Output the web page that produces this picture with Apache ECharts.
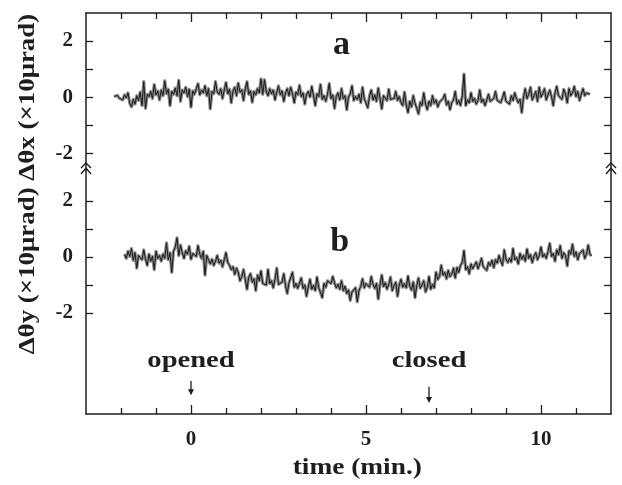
<!DOCTYPE html>
<html>
<head>
<meta charset="utf-8">
<script src="https://cdn.jsdelivr.net/npm/echarts@6/dist/echarts.min.js"></script>
<style>
  html, body { margin: 0; padding: 0; background: #fff; }
  #chart { width: 622px; height: 485px; }
</style>
</head>
<body>
<div id="chart"></div>
<script>
// time axis (minutes)
const timeRange = [-3, 12];
const timeMajorTicks = [0, 5, 10];
const timeMinorTicks = [-2, -1, 1, 2, 3, 4, 6, 7, 8, 9, 11];

// angle axes (x10 µrad) for the two panels
const panelARange = [-2.6, 3];
const panelBRange = [-5.6, 3.1];
const angleTicks = [-2, -1, 0, 1, 2];
const angleLabels = [-2, 0, 2];

// sampling of the recorded traces
const sampleStep = 0.05;
const thetaXStart = -2.2;
const thetaYStart = -1.9;

// Δθx trace, one row per minute starting at -2.2 min
const thetaX = [
  0.02,-0.05,0.06,-0.04,0.03,-0.10,0.08,-0.02,0.15,-0.22,-0.35,-0.08,-0.25,0.05,-0.12,0.18,-0.30,0.55,-0.40,0.10,
  0.02,0.20,-0.05,0.45,0.08,0.22,-0.10,0.25,0.05,0.58,0.12,0.28,-0.30,0.20,0.10,0.32,0.05,0.60,-0.15,0.25,
  0.15,0.35,0.02,0.28,-0.36,0.22,0.10,0.30,0.48,0.08,0.25,0.15,0.40,0.05,0.30,-0.42,0.20,0.12,0.55,0.18,
  0.10,0.30,-0.05,0.25,0.52,0.12,0.28,-0.20,0.22,0.35,0.05,0.50,0.18,0.26,-0.12,0.30,0.55,0.10,0.22,-0.18,
  0.20,0.08,0.30,0.15,0.65,0.10,0.62,0.20,0.05,0.30,0.12,0.25,-0.10,0.18,0.40,0.08,0.22,-0.15,0.15,0.30,
  0.05,0.35,0.12,-0.20,0.18,0.08,0.42,0.02,0.15,-0.25,0.10,0.20,0.00,0.38,0.05,-0.30,0.12,0.02,0.45,-0.08,
  0.05,-0.15,0.10,0.48,-0.05,0.08,-0.40,0.02,0.15,-0.10,0.30,-0.05,0.05,-0.45,0.00,0.12,0.40,-0.12,0.02,-0.08,
  0.10,-0.20,0.35,-0.05,0.02,-0.38,0.05,0.25,-0.10,0.08,-0.15,0.32,-0.05,-0.42,0.05,0.00,-0.12,0.28,-0.08,-0.02,
  -0.05,0.20,-0.12,0.02,-0.20,-0.30,0.18,-0.28,-0.55,-0.15,-0.35,0.05,-0.22,-0.40,-0.60,-0.18,-0.30,0.15,-0.25,-0.45,
  -0.15,-0.30,0.05,-0.22,-0.10,-0.35,-0.18,-0.25,-0.05,0.10,-0.28,-0.15,-0.45,-0.20,-0.10,0.20,-0.25,-0.12,-0.30,0.05,
  0.82,-0.30,-0.10,-0.20,0.15,-0.15,-0.05,-0.25,-0.12,0.25,-0.18,-0.08,-0.30,-0.10,0.10,-0.15,-0.22,-0.05,0.20,-0.12,
  -0.08,-0.20,-0.02,0.18,-0.15,-0.10,-0.25,0.05,-0.12,0.15,-0.05,-0.20,-0.08,-0.55,0.00,0.30,-0.05,0.10,0.35,-0.10,
  0.05,0.20,-0.15,0.35,0.00,0.12,0.30,-0.10,0.08,0.25,0.02,-0.30,0.15,0.38,0.05,0.10,-0.08,0.28,0.12,-0.20,
  0.30,0.05,0.15,0.38,0.02,0.20,-0.12,0.10,0.30,0.05,0.15,0.22,0.10
];

// Δθy trace, one row per minute starting at -1.9 min
const thetaY = [
  0.10,-0.05,0.20,0.02,0.30,-0.12,0.15,-0.40,0.05,0.12,-0.10,0.25,-0.08,-0.30,0.10,-0.15,0.02,-0.45,0.20,-0.05,
  0.05,-0.15,0.10,-0.05,0.50,-0.10,0.15,-0.55,0.20,0.35,0.68,0.05,0.42,0.15,-0.05,0.22,0.10,0.38,-0.08,0.12,
  0.15,0.02,0.40,0.10,-0.05,0.20,-0.65,0.05,-0.10,-0.25,-0.08,-0.30,-0.15,0.05,-0.22,-0.12,-0.35,-0.10,0.15,-0.20,
  -0.30,-0.45,-0.35,-0.62,-0.40,-0.55,-0.85,-0.70,-0.45,-0.80,-1.15,-0.72,-0.60,-0.90,-0.78,-1.20,-0.65,-0.85,-0.50,-0.95,
  -0.88,-1.00,-0.45,-0.95,-0.85,-1.10,-0.80,-0.40,-0.98,-1.05,-0.90,-0.60,-1.02,-1.30,-0.92,-0.85,-0.55,-1.08,-0.95,-1.12,
  -1.05,-0.75,-1.12,-1.00,-1.40,-1.08,-0.80,-1.15,-1.02,-1.20,-0.72,-1.10,-1.05,-1.45,-0.95,-1.08,-0.85,-0.78,-0.95,-0.70,
  -0.92,-1.10,-0.98,-1.15,-0.85,-1.20,-1.05,-1.30,-1.18,-1.55,-1.25,-1.32,-1.10,-1.60,-1.20,-1.05,-0.78,-1.10,-0.95,-1.02,
  -1.08,-0.70,-0.98,-1.12,-0.95,-1.50,-1.00,-0.65,-1.05,-0.92,-1.15,-0.98,-0.72,-1.20,-1.02,-0.90,-1.40,-1.00,-0.80,-1.08,
  -0.95,-1.10,-0.68,-1.05,-1.18,-0.90,-1.45,-1.02,-0.75,-1.12,-1.00,-0.85,-1.25,-1.08,-0.70,-1.15,-0.98,-1.10,-0.55,-0.80,
  -0.70,-0.30,-0.65,-0.55,-0.78,-0.48,-0.70,-0.62,-0.40,-0.75,-0.38,-0.55,-0.30,-0.20,0.22,-0.45,-0.35,-0.60,-0.25,-0.42,
  -0.30,-0.18,-0.42,-0.25,-0.05,-0.35,-0.28,-0.48,-0.20,-0.30,-0.12,-0.38,-0.10,-0.22,0.05,-0.15,-0.30,0.25,-0.08,-0.20,
  -0.05,-0.18,0.30,-0.10,-0.02,-0.25,0.12,-0.08,0.05,-0.15,0.28,-0.05,0.08,-0.20,0.02,0.15,-0.10,0.05,0.35,0.00,
  0.10,-0.05,0.20,0.48,0.02,0.12,-0.15,0.25,0.08,0.40,-0.05,0.15,0.05,-0.32,0.22,0.10,0.45,0.02,0.18,-0.10,
  0.12,0.05,0.25,-0.05,0.10,0.42,0.08,0.05
];

// shutter events (min)
const eventNames = ['opened', 'closed'];
const eventTimes = [0, 6.8];

const SERIF = "'Liberation Serif', 'Times New Roman', serif";
const INK = '#1e1e1e';

function toPairs(values, start) {
  return values.map((v, i) => [+(start + i * sampleStep).toFixed(2), v]);
}

function xAxisDef(gridIndex, position, ticks, len, showLine, labels) {
  return {
    type: 'value', gridIndex, position,
    min: timeRange[0], max: timeRange[1],
    axisLine: { show: showLine, onZero: false, lineStyle: { color: INK, width: 1.5 } },
    axisTick: { show: true, inside: true, length: len, customValues: ticks,
                lineStyle: { color: INK, width: 1.3 } },
    axisLabel: labels ? {
      show: true, customValues: labels, margin: 15,
      fontFamily: SERIF, fontWeight: 'bold', fontSize: 21, color: INK
    } : { show: false },
    splitLine: { show: false }
  };
}

function yAxisDef(gridIndex, position, range, labels) {
  return {
    type: 'value', gridIndex, position,
    min: range[0], max: range[1],
    axisLine: { show: true, onZero: false, lineStyle: { color: INK, width: 1.5 } },
    axisTick: { show: true, inside: true, length: 7, customValues: angleTicks,
                lineStyle: { color: INK, width: 1.3 } },
    axisLabel: labels ? {
      show: true, customValues: angleLabels, margin: 13,
      fontFamily: SERIF, fontWeight: 'bold', fontSize: 21, color: INK,
      formatter: v => String(v)
    } : { show: false },
    splitLine: { show: false }
  };
}

// each trace is drawn as a soft grey band with the dark signal on top
function traceLayers(name, values, start, xIdx, yIdx) {
  const data = toPairs(values, start);
  return [
    {
      name: name + ' band', type: 'line', xAxisIndex: xIdx, yAxisIndex: yIdx,
      data, showSymbol: false, silent: true,
      lineStyle: { color: '#8c8c8c', width: 3.2, join: 'round' }
    },
    {
      name, type: 'line', xAxisIndex: xIdx, yAxisIndex: yIdx,
      data, showSymbol: false,
      lineStyle: { color: '#1a1a1a', width: 1 }
    }
  ];
}

const chart = echarts.init(document.getElementById('chart'), null, { renderer: 'canvas' });

chart.setOption({
  animation: false,
  backgroundColor: '#fff',
  grid: [
    { left: 86, right: 11, top: 13, height: 157 },
    { left: 86, right: 11, top: 170, height: 244 }
  ],
  xAxis: [
    xAxisDef(0, 'top', timeMajorTicks, 9, true, null),
    xAxisDef(0, 'top', timeMinorTicks, 6, false, null),
    xAxisDef(1, 'bottom', timeMajorTicks, 9, true, timeMajorTicks),
    xAxisDef(1, 'bottom', timeMinorTicks, 6, false, null)
  ],
  yAxis: [
    yAxisDef(0, 'left', panelARange, true),
    yAxisDef(0, 'right', panelARange, false),
    yAxisDef(1, 'left', panelBRange, true),
    yAxisDef(1, 'right', panelBRange, false)
  ],
  series: [
    ...traceLayers('Δθx', thetaX, thetaXStart, 0, 0),
    ...traceLayers('Δθy', thetaY, thetaYStart, 2, 2)
  ]
});

// annotations placed through the axes
const px = (ax, v) => chart.convertToPixel({ xAxisIndex: ax }, v);
const py = (ax, v) => chart.convertToPixel({ yAxisIndex: ax }, v);

const graphics = [];

function addText(text, x, y, size, scaleX, opts) {
  graphics.push(Object.assign({
    type: 'text', x, y, scaleX, scaleY: 1, silent: true,
    style: {
      text, fontFamily: SERIF, fontWeight: 'bold', fontSize: size,
      fill: INK, align: 'center', verticalAlign: 'middle'
    }
  }, opts || {}));
}

// panel letters
addText('a', px(0, 4.3), py(0, 1.86), 34, 1.0);
addText('b', px(2, 4.25), py(2, 0.52), 34, 1.0);

// shutter events with downward arrows
const arrowSpans = [[-4.42, -4.93], [-4.63, -5.21]];
eventNames.forEach((name, i) => {
  const x = px(2, eventTimes[i]);
  addText(name, x, py(2, -3.72), 24, 1.19);
  const y0 = py(2, arrowSpans[i][0]);
  const y1 = py(2, arrowSpans[i][1]);
  graphics.push({
    type: 'line', silent: true,
    shape: { x1: x, y1: y0, x2: x, y2: y1 - 4 },
    style: { stroke: INK, lineWidth: 1.3 }
  });
  graphics.push({
    type: 'polygon', silent: true,
    shape: { points: [[x - 3, y1 - 6], [x, y1], [x + 3, y1 - 6]] },
    style: { fill: INK }
  });
});

// axis titles
const plotLeft = px(0, timeRange[0]);
const plotRight = px(0, timeRange[1]);
addText('time (min.)', px(2, 4.75), 468, 24, 1.14);
addText('Δθy (×10μrad) Δθx (×10μrad)', 28, 184, 23, 1.17, { rotation: Math.PI / 2 });

// break marks on both vertical axes
const breakY = py(0, panelARange[0]);
[plotLeft, plotRight].forEach(x => {
  [[-7, -2], [-2, 4]].forEach(([top, bottom]) => {
    graphics.push({
      type: 'polyline', silent: true,
      shape: { points: [[x - 5, breakY + bottom], [x, breakY + top], [x + 5, breakY + bottom]] },
      style: { stroke: INK, lineWidth: 1.4, fill: null }
    });
  });
});

chart.setOption({ graphic: graphics });
</script>
</body>
</html>
